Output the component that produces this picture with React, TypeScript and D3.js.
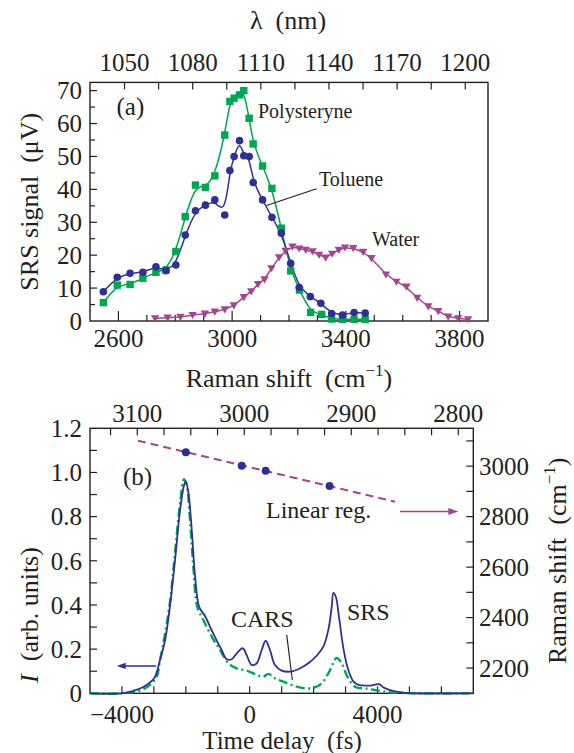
import React from 'react';
import * as d3 from 'd3';

// ---------- Panel (a): SRS spectra ----------
const ramanToluene = [2547, 2596, 2641, 2686, 2732, 2767, 2802, 2835, 2871, 2906, 2939, 2974, 2992, 3007, 3026, 3041, 3060, 3074, 3107, 3140, 3173, 3206, 3236, 3275, 3312, 3350, 3388, 3429, 3468];
const signalToluene = [8.9, 13.3, 14.5, 14.8, 16.5, 15.3, 17.0, 26.1, 33.5, 35.2, 36.8, 32.2, 45.7, 50.0, 54.8, 50.2, 50.0, 42.1, 36.8, 31.5, 26.7, 17.5, 10.2, 7.4, 5.4, 2.3, 1.8, 2.6, 2.4];

const ramanPS = [2547, 2596, 2641, 2686, 2732, 2767, 2802, 2835, 2871, 2906, 2939, 2974, 2992, 3007, 3026, 3041, 3060, 3074, 3107, 3140, 3173, 3206, 3237, 3276, 3315, 3350, 3388, 3429, 3468];
const signalPS = [5.6, 10.9, 11.1, 13.0, 14.8, 15.5, 21.1, 31.7, 41.3, 40.6, 44.1, 56.5, 66.7, 67.7, 68.7, 70.0, 61.6, 53.8, 47.1, 40.3, 28.2, 15.2, 9.4, 2.6, 2.0, 0.6, 0.5, 0.5, 0.5];

const ramanWater = [2729, 2773, 2818, 2861, 2904, 2939, 2974, 3006, 3041, 3067, 3091, 3114, 3138, 3165, 3188, 3212, 3236, 3259, 3283, 3306, 3329, 3352, 3375, 3397, 3426, 3461, 3490, 3541, 3578, 3613, 3651, 3690, 3725, 3760, 3795, 3830];
const signalWater = [0.8, 1.0, 1.2, 1.8, 2.2, 2.8, 3.5, 4.7, 7.2, 9.0, 11.2, 12.6, 16.0, 19.3, 21.3, 22.6, 22.0, 21.6, 21.1, 20.1, 19.2, 20.4, 21.6, 22.3, 22.1, 21.0, 19.1, 14.1, 11.9, 10.4, 7.0, 4.4, 3.0, 1.3, 0.8, 0.5];

const ramanTicksA = [2600, 3000, 3400, 3800];
const signalTicksA = [0, 10, 20, 30, 40, 50, 60, 70];
const lambdaTicksA = [1050, 1080, 1110, 1140, 1170, 1200];

// ---------- Panel (b): time-delay traces ----------
const delaySRS = [-5000, -4000, -3500, -3230, -2990, -2810, -2650, -2500, -2340, -2180, -2060, -2005, -1920, -1815, -1710, -1580, -1400, -1140, -880, -720, -565, -410, -220, -75, 60, 220, 375, 500, 635, 790, 1000, 1260, 1520, 1835, 2096, 2305, 2462, 2566, 2620, 2700, 2800, 2950, 3100, 3250, 3400, 3770, 4050, 4190, 4450, 4810, 5120, 7000];
const intensitySRS = [0, 0, 0.018, 0.038, 0.068, 0.15, 0.24, 0.39, 0.6, 0.83, 0.94, 0.96, 0.91, 0.74, 0.53, 0.39, 0.35, 0.27, 0.196, 0.154, 0.154, 0.18, 0.204, 0.166, 0.128, 0.136, 0.196, 0.238, 0.196, 0.128, 0.103, 0.098, 0.109, 0.136, 0.17, 0.211, 0.287, 0.39, 0.455, 0.435, 0.34, 0.19, 0.1, 0.053, 0.038, 0.035, 0.041, 0.026, 0.012, 0.003, 0, 0];

const delayCARS = [-5000, -4000, -3435, -3120, -2913, -2808, -2650, -2495, -2340, -2180, -2057, -1975, -1870, -1765, -1640, -1452, -1190, -930, -670, -410, -95, 220, 430, 583, 790, 1050, 1366, 1731, 1990, 2250, 2480, 2723, 2880, 3060, 3297, 3660, 4050, 4500, 7000];
const intensityCARS = [0, 0, 0.012, 0.038, 0.075, 0.15, 0.27, 0.415, 0.634, 0.86, 0.97, 0.944, 0.785, 0.574, 0.39, 0.332, 0.257, 0.196, 0.136, 0.113, 0.103, 0.083, 0.075, 0.088, 0.068, 0.053, 0.035, 0.023, 0.024, 0.045, 0.095, 0.16, 0.136, 0.075, 0.03, 0.021, 0.012, 0.003, 0];

const delayPoints = [-2000, -250, 500, 2500];
const shiftPoints = [3055, 3002, 2982, 2921];
const regDelay = [-3500, 4550];
const regShift = [3101, 2859];

const delayTicksB = [-4000, 0, 4000];
const intensityTicksB = [0, 0.2, 0.4, 0.6, 0.8, 1.0, 1.2];
const shiftTicksTopB = [3100, 3000, 2900, 2800];
const shiftTicksRightB = [2200, 2400, 2600, 2800, 3000];

const INK = '#231f20';
const GREEN = '#00a651';
const BLUE = '#2e3192';
const MAGENTA = '#a3468f';
const FONT = '"Liberation Serif", "Times New Roman", Times, serif';

function mkPath(xs: number[], ys: number[], sx: any, sy: any, curve: any) {
  const idx = xs.map((_, i) => i);
  return d3.line<number>().x(i => sx(xs[i])).y(i => sy(ys[i])).curve(curve)(idx) || '';
}

export default function App() {
  const xA = d3.scaleLinear().domain([2500, 3900]).range([90, 488]);
  const yA = d3.scaleLinear().domain([0, 72.5]).range([321, 82.4]);
  const xAtop = d3.scaleLinear().domain([1034.8, 1210]).range([90, 488]);
  const xB = d3.scaleLinear().domain([-5000, 7000]).range([90, 473.3]);
  const yB = d3.scaleLinear().domain([0, 1.2]).range([693.3, 428.3]);
  const yBr = d3.scaleLinear().domain([2100, 3150]).range([693.3, 428.3]);
  const xBtop = d3.scaleLinear().domain([3144.2, 2786]).range([90, 473.3]);

  const tickFs = 25;
  const [aL, aR] = xA.range();
  const [aB, aT] = yA.range();
  const [bL, bR] = xB.range();
  const [bB, bT] = yB.range();

  const tl = 7, ts = 5;

  const aBottomTicks = d3.range(2600, 3850, 100);
  const aLeftTicks = d3.range(5, 72, 5);
  const aTopTicks = d3.range(1050, 1201, 15);
  const bBottomTicks = d3.range(-4000, 6500, 1000);
  const bLeftTicks = d3.range(1, 12).map(v => v / 10);
  const bTopTicks = d3.range(2800, 3126, 25);
  const bRightTicks = d3.range(2200, 3101, 100);

  const tri = (cx: number, cy: number) => `M${cx - 4.2},${cy - 3.2}L${cx + 4.2},${cy - 3.2}L${cx},${cy + 4}Z`;
  const tStyle: React.CSSProperties = { fontFamily: FONT, whiteSpace: 'pre' };

  return (
    <svg width={574} height={753} style={{ position: 'absolute', left: 0, top: 0, background: '#fff', fontFamily: FONT }}>
      <rect x={0} y={0} width={574} height={753} fill="#fff" />
      {/* ================= Panel (a) ================= */}
      <g>
        {aBottomTicks.map(v => (
          <line key={'ab' + v} x1={xA(v)} x2={xA(v)} y1={aB} y2={aB - (ramanTicksA.includes(v) ? 10 : 6)} stroke={INK} strokeWidth={1.2} />
        ))}
        {aLeftTicks.map(v => (
          <line key={'al' + v} x1={aL} x2={aL + (v % 10 === 0 ? tl : ts)} y1={yA(v)} y2={yA(v)} stroke={INK} strokeWidth={1.2} />
        ))}
        {aTopTicks.map(v => (
          <line key={'at' + v} x1={xAtop(v)} x2={xAtop(v)} y1={aT} y2={aT + tl} stroke={INK} strokeWidth={1.2} />
        ))}
        <rect x={aL} y={aT} width={aR - aL} height={aB - aT} fill="none" stroke={INK} strokeWidth={1.4} />
        {ramanTicksA.map(v => (
          <text key={'abl' + v} x={xA(v)} y={347} fontSize={tickFs} textAnchor="middle" fill={INK} style={tStyle}>{v}</text>
        ))}
        {signalTicksA.map(v => (
          <text key={'all' + v} x={82} y={yA(v)} dy="0.35em" fontSize={tickFs} textAnchor="end" fill={INK} style={tStyle}>{v}</text>
        ))}
        {lambdaTicksA.map(v => (
          <text key={'atl' + v} x={xAtop(v)} y={71} fontSize={tickFs} textAnchor="middle" fill={INK} style={tStyle}>{v}</text>
        ))}
        <text x={288} y={29} fontSize={26} textAnchor="middle" fill={INK} style={tStyle}>{'λ  (nm)'}</text>
        <text x={289} y={387} fontSize={26} textAnchor="middle" fill={INK} style={tStyle}>
          {'Raman shift  (cm'}<tspan fontSize={17} dy={-11}>{'−1'}</tspan><tspan dy={11}>{')'}</tspan>
        </text>
        <text transform={`translate(38,${(aT + aB) / 2}) rotate(-90)`} fontSize={26} textAnchor="middle" fill={INK} style={tStyle}>{'SRS signal  (μV)'}</text>

        <path d={mkPath(ramanWater, signalWater, xA, yA, d3.curveBasis)} fill="none" stroke={MAGENTA} strokeWidth={1.5} />
        <path d={mkPath(ramanPS, signalPS, xA, yA, d3.curveBasis)} fill="none" stroke={GREEN} strokeWidth={1.5} />
        <path d={mkPath(ramanToluene, signalToluene, xA, yA, d3.curveBasis)} fill="none" stroke={BLUE} strokeWidth={1.5} />
        {ramanWater.map((r, i) => (
          <path key={'wm' + i} d={tri(xA(r), yA(signalWater[i]))} fill={MAGENTA} />
        ))}
        {ramanPS.map((r, i) => (
          <rect key={'pm' + i} x={xA(r) - 3.7} y={yA(signalPS[i]) - 3.7} width={7.4} height={7.4} fill={GREEN} />
        ))}
        {ramanToluene.map((r, i) => (
          <circle key={'tm' + i} cx={xA(r)} cy={yA(signalToluene[i])} r={3.8} fill={BLUE} />
        ))}
        <text x={116.5} y={115} fontSize={25} fill={INK} style={tStyle}>(a)</text>
        <text x={258} y={118} fontSize={20} fill={INK} style={tStyle}>Polysteryne</text>
        <text x={319} y={186} fontSize={20} fill={INK} style={tStyle}>Toluene</text>
        <line x1={xA(3297)} y1={yA(40.2)} x2={xA(3121)} y2={yA(35.1)} stroke={INK} strokeWidth={1.2} />
        <text x={372} y={246} fontSize={20} fill={INK} style={tStyle}>Water</text>
      </g>

      {/* ================= Panel (b) ================= */}
      <g>
        {bBottomTicks.map(v => (
          <line key={'bb' + v} x1={xB(v)} x2={xB(v)} y1={bB} y2={bB - tl} stroke={INK} strokeWidth={1.2} />
        ))}
        {bLeftTicks.map(v => (
          <line key={'bl' + v} x1={bL} x2={bL + tl} y1={yB(v)} y2={yB(v)} stroke={INK} strokeWidth={1.2} />
        ))}
        {bTopTicks.map(v => (
          <line key={'bt' + v} x1={xBtop(v)} x2={xBtop(v)} y1={bT} y2={bT + tl} stroke={INK} strokeWidth={1.2} />
        ))}
        {bRightTicks.map(v => (
          <line key={'br' + v} x1={bR} x2={bR - tl} y1={yBr(v)} y2={yBr(v)} stroke={INK} strokeWidth={1.2} />
        ))}
        <rect x={bL} y={bT} width={bR - bL} height={bB - bT} fill="none" stroke={INK} strokeWidth={1.4} />

        {delayTicksB.map(v => (
          <text key={'bbl' + v} x={xB(v)} y={723} fontSize={tickFs} textAnchor="middle" fill={INK} style={tStyle}>{v < 0 ? '−' + Math.abs(v) : String(v)}</text>
        ))}
        {intensityTicksB.map(v => (
          <text key={'bll' + v} x={82} y={yB(v)} dy="0.35em" fontSize={tickFs} textAnchor="end" fill={INK} style={tStyle}>{v === 0 ? '0' : v.toFixed(1)}</text>
        ))}
        {shiftTicksTopB.map(v => (
          <text key={'btl' + v} x={xBtop(v)} y={422} fontSize={tickFs} textAnchor="middle" fill={INK} style={tStyle}>{v}</text>
        ))}
        {shiftTicksRightB.map(v => (
          <text key={'brl' + v} x={479} y={yBr(v)} dy="0.35em" fontSize={tickFs} textAnchor="start" fill={INK} style={tStyle}>{v}</text>
        ))}
        <text x={282} y={749} fontSize={25} textAnchor="middle" fill={INK} style={tStyle}>{'Time delay  (fs)'}</text>
        <text transform={`translate(38,615) rotate(-90)`} fontSize={26} textAnchor="middle" fill={INK} style={tStyle}>
          <tspan fontStyle="italic">I</tspan>{'  (arb. units)'}
        </text>
        <text transform={`translate(566,${(bT + bB) / 2}) rotate(-90)`} fontSize={26} textAnchor="middle" fill={INK} style={tStyle}>
          {'Raman shift  (cm'}<tspan fontSize={17} dy={-11}>{'−1'}</tspan><tspan dy={11}>{')'}</tspan>
        </text>

        <path d={mkPath(delayCARS, intensityCARS, xB, yB, d3.curveCatmullRom)} fill="none" stroke={GREEN} strokeWidth={2.4} strokeDasharray="9 3.5 2 3.5" />
        <path d={mkPath(delaySRS, intensitySRS, xB, yB, d3.curveCatmullRom)} fill="none" stroke={BLUE} strokeWidth={1.8} />

        <path d={mkPath(regDelay, regShift, xB, yBr, d3.curveLinear)} fill="none" stroke={MAGENTA} strokeWidth={2} strokeDasharray="8 5" />
        {delayPoints.map((t, i) => (
          <circle key={'dp' + i} cx={xB(t)} cy={yBr(shiftPoints[i])} r={4} fill={BLUE} />
        ))}

        <line x1={xB(4706)} x2={xB(6531) - 8} y1={yBr(2820)} y2={yBr(2820)} stroke={MAGENTA} strokeWidth={1.5} />
        <path d={`M${xB(6531)},${yBr(2820)}L${xB(6531) - 10},${yBr(2820) - 3.5}L${xB(6531) - 10},${yBr(2820) + 3.5}Z`} fill={MAGENTA} />
        <line x1={xB(-2934)} x2={xB(-4164) + 7} y1={yB(0.124)} y2={yB(0.124)} stroke={BLUE} strokeWidth={1.5} />
        <path d={`M${xB(-4164)},${yB(0.124)}L${xB(-4164) + 9},${yB(0.124) - 3.2}L${xB(-4164) + 9},${yB(0.124) + 3.2}Z`} fill={BLUE} />

        <text x={123} y={485} fontSize={25} fill={INK} style={tStyle}>(b)</text>
        <text x={266} y={518} fontSize={24} fill={INK} style={tStyle}>Linear reg.</text>
        <text x={231} y={627} fontSize={24} fill={INK} style={tStyle}>CARS</text>
        <line x1={xB(1158)} y1={yB(0.264)} x2={xB(1334)} y2={yB(0.06)} stroke={INK} strokeWidth={1.2} />
        <text x={347} y={620} fontSize={24} fill={INK} style={tStyle}>SRS</text>
      </g>
    </svg>
  );
}
